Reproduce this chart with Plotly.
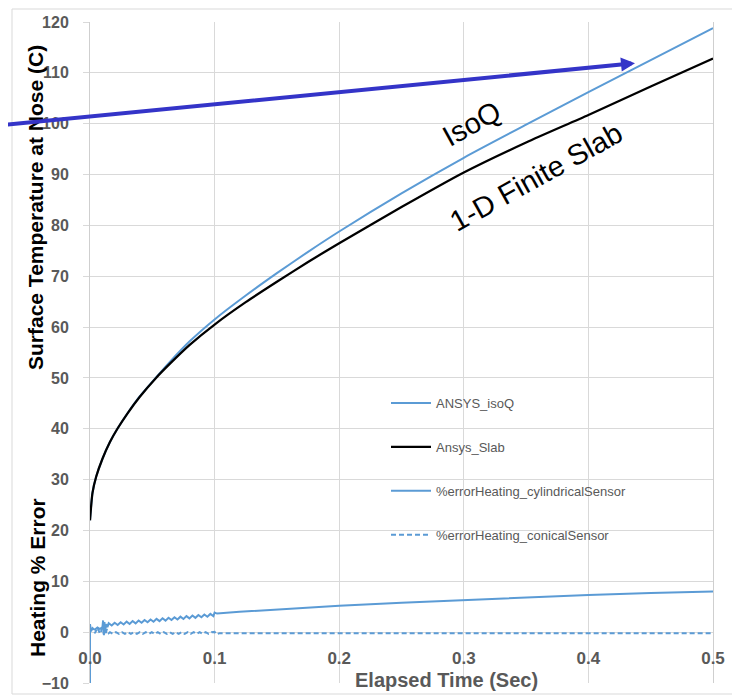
import plotly.graph_objects as go

# ---------------- data ----------------
t_temp = [0, 0.002, 0.005, 0.01, 0.016, 0.022, 0.03, 0.04, 0.053, 0.065, 0.08, 0.1,
          0.125, 0.15, 0.175, 0.2, 0.25, 0.3, 0.35, 0.4, 0.45, 0.5]
ansys_slab = [22.0, 27.4, 30.6, 34.1, 37.4, 40.0, 43.0, 46.3, 50.0, 53.0, 56.5, 60.5,
              64.9, 68.9, 72.8, 76.5, 83.6, 90.4, 96.3, 101.7, 107.3, 112.8]
ansys_isoq = [22.0, 27.4, 30.6, 34.1, 37.4, 40.0, 43.0, 46.4, 50.1, 53.4, 57.2, 61.5,
              66.2, 70.6, 74.8, 78.8, 86.3, 93.3, 99.8, 106.2, 112.5, 118.8]

t_cyl = [0, 0, 0.0008, 0.002, 0.004, 0.006, 0.008, 0.0100, 0.0105, 0.0110, 0.0116,
         0.0122, 0.0130, 0.0140,
         0.0150, 0.0174, 0.0198, 0.0222, 0.0246, 0.0270, 0.0294, 0.0318, 0.0342, 0.0366,
         0.0390, 0.0414, 0.0438, 0.0462, 0.0486, 0.0510, 0.0534, 0.0558, 0.0582, 0.0606,
         0.0630, 0.0654, 0.0678, 0.0702, 0.0726, 0.0750, 0.0774, 0.0798, 0.0822, 0.0846,
         0.0870, 0.0894, 0.0918, 0.0942, 0.0966, 0.0990,
         0.1000, 0.1020, 0.12, 0.15, 0.2, 0.25, 0.3, 0.35, 0.4, 0.45, 0.5]
err_cyl = [-10.0, 1.6, 0.2, 0.7, 0.5, 0.9, 0.6, 1.0, 2.3, -0.4, 2.0,
           0.2, 1.6, 1.0,
           1.75, 1.30, 1.86, 1.41, 1.96, 1.52, 2.07, 1.62, 2.18, 1.73,
           2.29, 1.84, 2.39, 1.95, 2.50, 2.06, 2.61, 2.17, 2.72, 2.27,
           2.83, 2.38, 2.94, 2.49, 3.05, 2.60, 3.16, 2.71, 3.27, 2.82,
           3.37, 2.93, 3.48, 3.04, 3.59, 3.15,
           3.85, 3.65, 4.0, 4.5, 5.2, 5.8, 6.35, 6.85, 7.3, 7.7, 8.0]

t_con = [0, 0.002, 0.004, 0.006, 0.008, 0.0100, 0.0105, 0.0112, 0.0118, 0.0125, 0.0135, 0.0150,
         0.0160, 0.0184, 0.0208, 0.0232, 0.0256, 0.0280, 0.0304, 0.0328, 0.0352, 0.0376,
         0.0400, 0.0424, 0.0448, 0.0472, 0.0496, 0.0520, 0.0544, 0.0568, 0.0592, 0.0616,
         0.0640, 0.0664, 0.0688, 0.0712, 0.0736, 0.0760, 0.0784, 0.0808, 0.0832, 0.0856,
         0.0880, 0.0904, 0.0928, 0.0952, 0.0976,
         0.1000, 0.1015, 0.1040, 0.2, 0.3, 0.4, 0.5]
err_con = [0.3, 0.8, -0.2, 0.9, -0.3, 0.8, 1.7, -0.6, 1.2, -0.5, 0.6, -0.2,
           0.0, -0.35, 0.0, -0.35, 0.0, -0.35, 0.0, -0.35, 0.0, -0.35,
           0.0, -0.35, 0.0, -0.35, 0.0, -0.35, 0.0, -0.35, 0.0, -0.35,
           0.0, -0.35, 0.0, -0.35, 0.0, -0.35, 0.0, -0.35, 0.0, -0.35,
           0.0, -0.35, 0.0, -0.35, 0.0,
           0.05, -0.45, -0.2, -0.2, -0.22, -0.22, -0.22]

x_ticks = [0.0, 0.1, 0.2, 0.3, 0.4, 0.5]
x_tick_labels = ["0.0", "0.1", "0.2", "0.3", "0.4", "0.5"]
y_ticks = list(range(-10, 121, 10))

BLUE = "#5b9bd5"
GRAY_TXT = "#595959"
GRID = "#d9d9d9"
FONT = "Liberation Sans"

fig = go.Figure()
fig.add_trace(go.Scatter(x=t_temp, y=ansys_isoq, mode="lines", name="ANSYS_isoQ",
                         legendgroup="a", line=dict(color=BLUE, width=2, shape="spline", smoothing=0.6)))
fig.add_trace(go.Scatter(x=t_temp, y=ansys_slab, mode="lines", name="Ansys_Slab",
                         legendgroup="b", line=dict(color="#000000", width=2.25, shape="spline", smoothing=0.6)))
fig.add_trace(go.Scatter(x=t_cyl, y=err_cyl, mode="lines", name="%errorHeating_cylindricalSensor",
                         legendgroup="c", line=dict(color=BLUE, width=2)))
fig.add_trace(go.Scatter(x=t_con, y=err_con, mode="lines", name="%errorHeating_conicalSensor",
                         legendgroup="d", line=dict(color=BLUE, width=2, dash="5px,3px")))

# the page body adds an 8px offset; size the figure so it fits the 740x696 window
OFF = 8
W, H = 740 - OFF, 696 - OFF
PL, PR, PT, PB = 90, 713, 22, 683          # plot area in window pixels
L, T = PL - OFF, PT - OFF
R, B = W - (PR - OFF), H - (PB - OFF)
pw, ph = PR - PL, PB - PT
y0_frac = (0 - (-10)) / (120 - (-10))

def px2paper_x(px):
    return (px - PL) / pw

def px2paper_y(py):
    return (PB - py) / ph

fig.update_layout(
    width=W, height=H,
    margin=dict(l=L, r=R, t=T, b=B, autoexpand=False),
    paper_bgcolor="white", plot_bgcolor="white",
    font=dict(family=FONT, color=GRAY_TXT),
    showlegend=True,
    legend=dict(x=px2paper_x(386), y=px2paper_y(388), xanchor="left", yanchor="top",
                bgcolor="rgba(0,0,0,0)", font=dict(family=FONT, size=13, color=GRAY_TXT),
                tracegroupgap=24, itemwidth=40, traceorder="grouped"),
    xaxis=dict(range=[0, 0.5], tickvals=x_ticks, ticktext=x_tick_labels,
               showgrid=True, gridcolor=GRID, gridwidth=1, zeroline=False,
               anchor="free", position=y0_frac, showline=False, ticks="",
               ticklabelstandoff=14, automargin=False,
               tickfont=dict(family=FONT, size=17, color=GRAY_TXT, weight="bold")),
    yaxis=dict(range=[-10, 120], tickvals=y_ticks, showgrid=True, gridcolor=GRID, gridwidth=1,
               zeroline=False, ticks="outside", ticklen=6, tickcolor=GRID,
               showline=True, linecolor="#cfcfcf", linewidth=1, mirror=True,
               ticklabelstandoff=11, automargin=False,
               tickfont=dict(family=FONT, size=16, color=GRAY_TXT, weight="bold")),
)

# outer chart frame
fig.add_shape(type="rect", xref="paper", yref="paper",
              x0=px2paper_x(12), x1=px2paper_x(737), y0=px2paper_y(694), y1=px2paper_y(9),
              line=dict(color=GRID, width=1), fillcolor="rgba(0,0,0,0)", layer="below")

# axis titles
fig.add_annotation(text="<b>Surface Temperature at Nose (C)</b>", xref="paper", yref="paper",
                   x=px2paper_x(36), y=px2paper_y(208), xanchor="center", yanchor="middle",
                   textangle=-90, showarrow=False,
                   font=dict(family=FONT, size=21, color="#000000"))
fig.add_annotation(text="<b>Heating % Error</b>", xref="paper", yref="paper",
                   x=px2paper_x(37), y=px2paper_y(578), xanchor="center", yanchor="middle",
                   textangle=-90, showarrow=False,
                   font=dict(family=FONT, size=21, color="#000000"))
fig.add_annotation(text="<b>Elapsed Time (Sec)</b>", xref="paper", yref="paper",
                   x=px2paper_x(446), y=px2paper_y(680), xanchor="center", yanchor="middle",
                   showarrow=False,
                   font=dict(family=FONT, size=20, color=GRAY_TXT))

# curve labels
fig.add_annotation(text="IsoQ", x=0.3058, y=100.0, xref="x", yref="y", textangle=-29,
                   showarrow=False, font=dict(family=FONT, size=29, color="#000000"))
fig.add_annotation(text="1-D Finite Slab", x=0.358, y=89.6, xref="x", yref="y", textangle=-29,
                   showarrow=False, font=dict(family=FONT, size=29, color="#000000"))

# arrows
fig.add_annotation(x=0.4374, y=111.9, ax=-0.075, ay=99.6, xref="x", yref="y",
                   axref="x", ayref="y", text="", showarrow=True,
                   arrowhead=2, arrowsize=0.7, arrowwidth=4, arrowcolor="#3434c8")
fig.add_annotation(x=0.5024, y=0.75, ax=0.53, ay=2.2, xref="x", yref="y",
                   axref="x", ayref="y", text="", showarrow=True,
                   arrowhead=2, arrowsize=1.1, arrowwidth=3, arrowcolor="#12a8e8")

fig.write_html("out.html")
